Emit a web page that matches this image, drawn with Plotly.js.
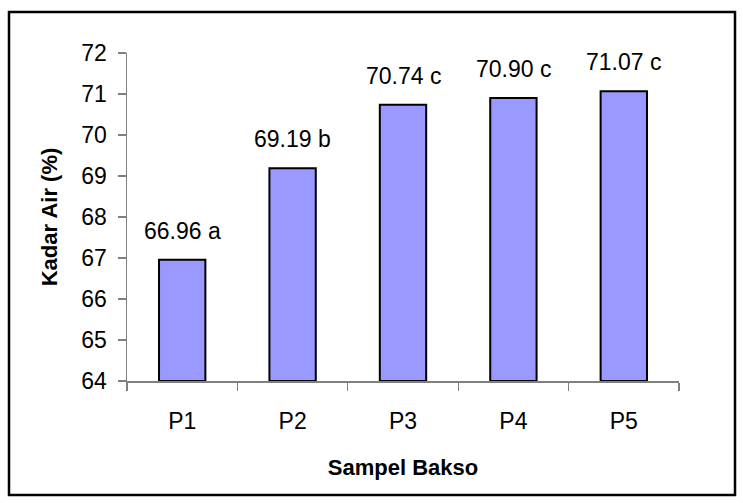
<!DOCTYPE html>
<html>
<head>
<meta charset="utf-8">
<script src="https://cdn.plot.ly/plotly-3.0.1.min.js"></script>
<style>html,body{margin:0;padding:0;background:#fff;}#chart{width:743px;height:503px;}</style>
</head>
<body>
<div id="chart"></div>
<script>
var categories = ["P1", "P2", "P3", "P4", "P5"];
var values = [66.96, 69.19, 70.74, 70.90, 71.07];
var letters = ["a", "b", "c", "c", "c"];
var yTicks = [64, 65, 66, 67, 68, 69, 70, 71, 72];
var baseValue = 64;

var labels = values.map(function (v, i) { return v.toFixed(2) + " " + letters[i]; });

var ml = 127, mr = 64, mt = 53, mb = 122, W = 743, H = 503;
var pw = W - ml - mr, ph = H - mt - mb;
function px(x) { return (x - ml) / pw; }
function py(y) { return (H - mb - y) / ph; }

var FONT = "Liberation Sans, Arial, sans-serif";

var trace = {
  type: "bar",
  x: categories,
  y: values.map(function (v) { return v - baseValue; }),
  base: baseValue,
  width: 0.42,
  marker: { color: "#9999FF", line: { color: "#000000", width: 2 } },
  hoverinfo: "skip"
};

var annotations = categories.map(function (c, i) {
  return {
    x: c, y: values[i], xref: "x", yref: "y",
    text: labels[i], showarrow: false,
    yanchor: "bottom", yshift: 14,
    font: { family: FONT, size: 23, color: "#000" }
  };
});

var layout = {
  width: W, height: H,
  margin: { l: ml, r: mr, t: mt, b: mb, pad: 0 },
  paper_bgcolor: "#ffffff",
  plot_bgcolor: "#ffffff",
  showlegend: false,
  font: { family: FONT, color: "#000" },
  xaxis: {
    type: "category",
    showline: true, linecolor: "#808080", linewidth: 1.5,
    ticks: "outside", tickson: "boundaries", ticklen: 8, tickcolor: "#808080", tickwidth: 1.2,
    tickfont: { size: 23, color: "#000" },
    ticklabelstandoff: 19,
    showgrid: false, zeroline: false,
    title: { text: "<b>Sampel Bakso</b>", font: { size: 22, color: "#000" }, standoff: 26 },
    automargin: false
  },
  yaxis: {
    range: [64, 72],
    tickvals: yTicks,
    showline: true, linecolor: "#808080", linewidth: 1.5,
    ticks: "outside", ticklen: 8, tickcolor: "#808080", tickwidth: 1.2,
    tickfont: { size: 23, color: "#000" },
    ticklabelstandoff: 6,
    showgrid: false, zeroline: false,
    title: { text: "<b>Kadar Air (%)</b>", font: { size: 22, color: "#000" }, standoff: 17 },
    automargin: false
  },
  annotations: annotations,
  shapes: [{
    type: "rect", xref: "paper", yref: "paper", layer: "above",
    x0: px(9), x1: px(735), y0: py(495), y1: py(12),
    line: { color: "#000", width: 2.5 }, fillcolor: "rgba(0,0,0,0)"
  }]
};

Plotly.newPlot("chart", [trace], layout, { displayModeBar: false, staticPlot: true });
</script>
</body>
</html>
